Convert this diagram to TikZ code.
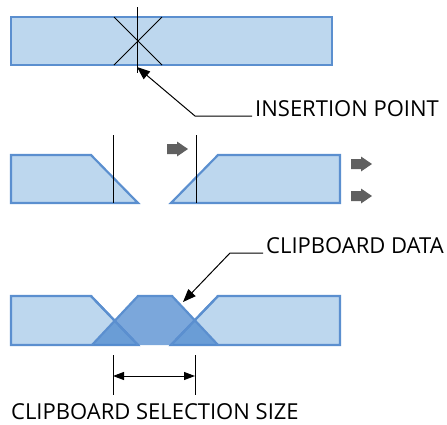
\documentclass[tikz,border=0pt]{standalone}
\usepackage{fontspec}
\setmainfont{Open Sans}
\usetikzlibrary{arrows.meta}
\definecolor{barfill}{RGB}{189,215,238}
\definecolor{barline}{RGB}{91,143,207}
\definecolor{clipfill}{RGB}{79,138,207}
\definecolor{movegray}{RGB}{96,96,96}
\tikzset{
  bar/.style={fill=barfill, draw=barline, line width=2.2pt},
  cursor/.style={black, line width=1pt},
  callout/.style={black, line width=1pt, -{Triangle[length=13pt,width=10pt]}},
  caption/.style={font=\fontsize{22}{22}\selectfont, anchor=base west, inner sep=0pt},
  move/.pic={\fill[movegray] (0,-5) -- (10,-5) -- (10,-7.5) -- (21,0) -- (10,7.5) -- (10,5) -- (0,5) -- cycle;},
}
\begin{document}
\begin{tikzpicture}[x=1pt,y=-1pt]
    \useasboundingbox (0,0) rectangle (447,424);
    % whole bar with insertion point
    \filldraw[bar] (11,17) rectangle (332,65);
    \draw[cursor] (114,17)--(162,65) (162,17)--(114,65);
    \draw[cursor] (137,7)--(137,73);
    \coordinate (ip) at (137,67);
    \coordinate (ipbend) at (195,116);
    \node[caption] (insert) at (255,116) {INSERTION POINT};
    \draw[callout] ([xshift=-3pt]insert.base west) -- (ipbend) -- (ip);
    % bar split open
    \filldraw[bar] (11,155)--(91,155)--(138,203)--(11,203)--cycle;
    \filldraw[bar] (171,203)--(218,155)--(340,155)--(340,203)--cycle;
    \draw[cursor] (113,135)--(113,203);
    \draw[cursor] (196,135)--(196,203);
    \pic at (167,149) {move};
    \pic at (351,164) {move};
    \pic at (351,196) {move};
    % bar with clipboard data pasted
    \filldraw[bar] (11,296)--(91,296)--(138,345)--(11,345)--cycle;
    \filldraw[bar] (171,345)--(218,296)--(340,296)--(340,345)--cycle;
    \fill[clipfill, opacity=.75] (92,345)--(138,296)--(172,296)--(218,345)--cycle;
    \draw[barline, line width=2.2pt] (92,345)--(138,296)--(172,296)--(218,345);
    \draw[barline, line width=2.2pt] (91,296)--(138,345) (171,345)--(218,296);
    \coordinate (clip) at (183,302);
    \coordinate (clipbend) at (230,253);
    \node[caption] (data) at (266,253) {CLIPBOARD DATA};
    \draw[callout] ([xshift=-3pt]data.base west) -- (clipbend) -- (clip);
    % selection size
    \coordinate (selL) at (113,376);
    \coordinate (selR) at (195,376);
    \draw[cursor] (113,355)--(113,395) (195,355)--(195,395);
    \draw[cursor, {Triangle[length=11pt,width=8pt]}-{Triangle[length=11pt,width=8pt]}] (selL)--(selR);
    \node[caption, text depth=0pt] (size) at (11,419) {CLIPBOARD SELECTION SIZE};
\end{tikzpicture}
\end{document}
